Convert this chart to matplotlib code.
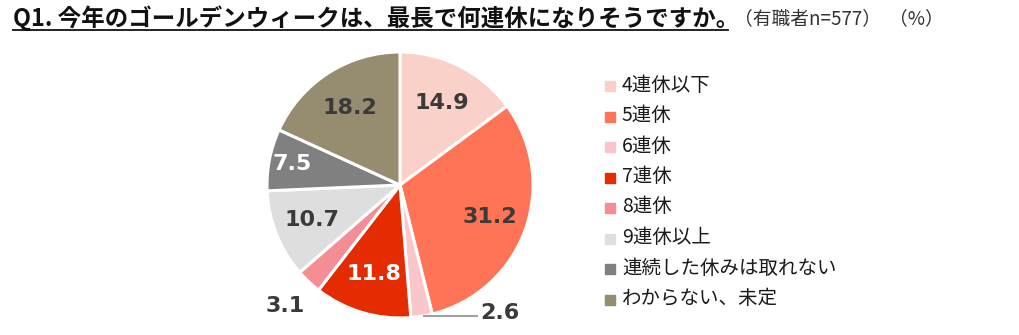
import numpy as np
import matplotlib.pyplot as plt
from matplotlib.patches import Rectangle

plt.rcParams['font.family'] = ['Noto Sans CJK JP', 'DejaVu Sans']

categories = ["4連休以下", "5連休", "6連休", "7連休", "8連休",
              "9連休以上", "連続した休みは取れない", "わからない、未定"]
shares = [14.9, 31.2, 2.6, 11.8, 3.1, 10.7, 7.5, 18.2]
colors = ["#F9D1C9", "#FF7356", "#FAC6CC", "#E42C00", "#F58D95",
          "#DEDEDE", "#808080", "#968C6F"]
label_colors = ["#3A3A3A", "#3A3A3A", "#3A3A3A", "white", "#3A3A3A",
                "#3A3A3A", "white", "#3A3A3A"]
# radial position of each value label (1.0 = pie edge)
label_radius = [0.69, 0.72, None, 0.70, 1.255, 0.715, 0.825, 0.69]

title = "Q1. 今年のゴールデンウィークは、最長で何連休になりそうですか。"
note = "（有職者n=577）"
unit = "（%）"

W, H = 1020, 335
fig = plt.figure(figsize=(W / 100, H / 100), dpi=100)

# pie centred at (400, 185) px with radius 133 px
cx, cy, r = 400, 185, 133
ax = fig.add_axes([(cx - r) / W, (H - cy - r) / H, 2 * r / W, 2 * r / H])
wedges, _ = ax.pie(shares, colors=colors, startangle=90, counterclock=False,
                   wedgeprops=dict(edgecolor="white", linewidth=2.2))
ax.set_xlim(-1, 1)
ax.set_ylim(-1, 1)
ax.set_aspect("equal")
ax.axis("off")

for w, val, lc, lr in zip(wedges, shares, label_colors, label_radius):
    mid = np.deg2rad((w.theta1 + w.theta2) / 2)
    if lr is None:
        # small slice: leader line running right to an outside label
        x0, y0 = np.cos(mid) * 1.0, np.sin(mid) * 0.995
        ax.plot([x0 + 0.02, 0.58], [y0, y0], color="#A0A0A0", lw=1.5,
                clip_on=False)
        ax.text(0.6, y0 + 0.02, f"{val}", ha="left", va="center",
                fontsize=16, fontweight="bold", color=lc,
                family="DejaVu Sans")
        continue
    ax.text(np.cos(mid) * lr, np.sin(mid) * lr, f"{val}", ha="center",
            va="center", fontsize=16, fontweight="bold", color=lc,
            family="DejaVu Sans")

# legend: square marker + label per category
lx, ly0, dy = 605 / W, 1 - 85 / H, 30.5 / H
for i, (cat, col) in enumerate(zip(categories, colors)):
    y = ly0 - i * dy
    fig.patches.append(Rectangle((lx, y - 6 / H), 10 / W, 10 / H,
                                 transform=fig.transFigure, color=col))
    fig.text(lx + 17 / W, y, cat, fontsize=14, color="#1A1A1A",
             va="center", ha="left")

# title with underline
fig.text(13 / W, 1 - 18 / H, title, fontsize=16.9, fontweight="bold",
         va="center", ha="left", color="#111111")
fig.add_artist(plt.Line2D([13 / W, 728 / W], [1 - 29.5 / H, 1 - 29.5 / H],
                          color="#111111", lw=1.3))
fig.text(734 / W, 1 - 19 / H, note, fontsize=13.5, va="center", ha="left",
         color="#333333")
fig.text(889 / W, 1 - 19 / H, unit, fontsize=13.5, va="center", ha="left",
         color="#333333")

fig.savefig("out.png", dpi=100, facecolor="white")
